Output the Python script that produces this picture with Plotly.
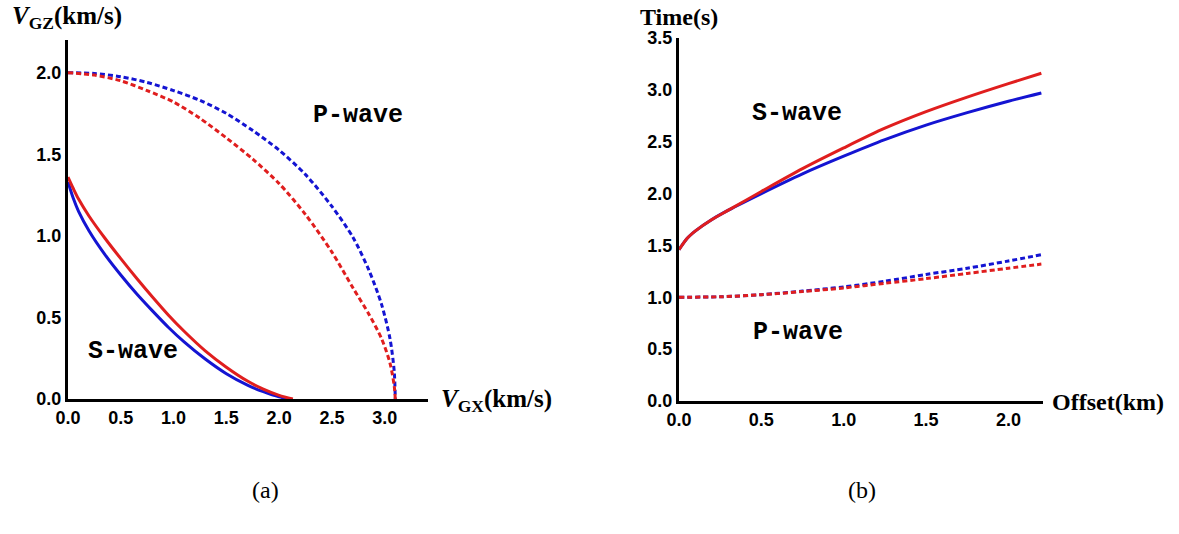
import plotly.graph_objects as go

# ---------------- Panel (a): group velocity (km/s) ----------------
p_blue_vx = [0.0, 0.25, 0.5, 0.75, 1.0, 1.25, 1.5, 1.75, 2.0, 2.25, 2.5, 2.7, 2.85, 2.97, 3.05, 3.09, 3.1]
p_blue_vz = [2.0, 1.995, 1.975, 1.94, 1.89, 1.83, 1.75, 1.645, 1.525, 1.375, 1.18, 0.99, 0.79, 0.58, 0.37, 0.17, 0.0]

p_red_vx = [0.0, 0.25, 0.5, 0.75, 1.0, 1.25, 1.5, 1.75, 2.0, 2.25, 2.5, 2.7, 2.85, 2.97, 3.05, 3.09, 3.1]
p_red_vz = [2.0, 1.985, 1.95, 1.89, 1.82, 1.72, 1.6, 1.47, 1.32, 1.13, 0.9, 0.68, 0.52, 0.37, 0.22, 0.08, 0.0]

s_blue_vx = [0.0, 0.05, 0.1, 0.2, 0.35, 0.5, 0.65, 0.8, 0.95, 1.1, 1.3, 1.5, 1.7, 1.85, 2.0, 2.1]
s_blue_vz = [1.33, 1.23, 1.15, 1.03, 0.885, 0.76, 0.645, 0.54, 0.44, 0.35, 0.245, 0.155, 0.085, 0.045, 0.013, 0.0]

s_red_vx = [0.0, 0.05, 0.1, 0.2, 0.35, 0.5, 0.65, 0.8, 0.95, 1.1, 1.3, 1.5, 1.7, 1.85, 2.0, 2.13]
s_red_vz = [1.36, 1.29, 1.225, 1.12, 0.985, 0.86, 0.74, 0.625, 0.515, 0.415, 0.295, 0.195, 0.11, 0.06, 0.022, 0.0]

# ---------------- Panel (b): traveltime (s) vs offset (km) ----------------
offset = [0.0, 0.05, 0.1, 0.2, 0.3, 0.5, 0.75, 1.0, 1.25, 1.5, 1.75, 2.0, 2.2]
t_s_blue = [1.46, 1.57, 1.64, 1.75, 1.84, 2.0, 2.19, 2.36, 2.52, 2.66, 2.78, 2.89, 2.97]
t_s_red = [1.46, 1.57, 1.64, 1.75, 1.84, 2.02, 2.24, 2.44, 2.63, 2.79, 2.93, 3.06, 3.16]

offset_p = [0.0, 0.25, 0.5, 0.75, 1.0, 1.25, 1.5, 1.75, 2.0, 2.2]
t_p_blue = [1.0, 1.005, 1.025, 1.06, 1.1, 1.155, 1.22, 1.28, 1.35, 1.41]
t_p_red = [1.0, 1.005, 1.025, 1.055, 1.09, 1.135, 1.18, 1.23, 1.28, 1.32]

ticks_a_x = [0.0, 0.5, 1.0, 1.5, 2.0, 2.5, 3.0]
ticks_a_y = [0.0, 0.5, 1.0, 1.5, 2.0]
ticks_b_x = [0.0, 0.5, 1.0, 1.5, 2.0]
ticks_b_y = [0.0, 0.5, 1.0, 1.5, 2.0, 2.5, 3.0, 3.5]

BLUE = "#1414d2"
RED = "#e01e1e"
DOT = "5px,3px"
W, H = 1179, 534

fig = go.Figure()

def add(x, y, color, dash, xa, ya):
    fig.add_trace(go.Scatter(x=x, y=y, mode="lines", xaxis=xa, yaxis=ya,
                             line=dict(color=color, width=3, dash=dash, shape="spline", smoothing=0.8),
                             showlegend=False, hoverinfo="skip"))

add(p_blue_vx, p_blue_vz, BLUE, DOT, "x", "y")
add(p_red_vx, p_red_vz, RED, DOT, "x", "y")
add(s_blue_vx, s_blue_vz, BLUE, "solid", "x", "y")
add(s_red_vx, s_red_vz, RED, "solid", "x", "y")

add(offset, t_s_blue, BLUE, "solid", "x2", "y2")
add(offset, t_s_red, RED, "solid", "x2", "y2")
add(offset_p, t_p_blue, BLUE, DOT, "x2", "y2")
add(offset_p, t_p_red, RED, DOT, "x2", "y2")

tickfont = dict(family="Liberation Sans, Arial", size=18, color="black", weight="bold")
axis_common = dict(showline=True, linewidth=3, linecolor="black", showgrid=False,
                   zeroline=False, ticks="", tickfont=tickfont, tickformat=".1f",
                   mirror=False, fixedrange=True, automargin=False)

def px2fx(px):
    return px / W

def py2fy(py):
    return 1 - py / H

fig.update_layout(
    template="none",
    width=W, height=H, margin=dict(l=0, r=0, t=0, b=0, pad=0),
    paper_bgcolor="white", plot_bgcolor="white",
    xaxis=dict(axis_common, domain=[px2fx(68), px2fx(428)], range=[0, 3.41],
               tickvals=ticks_a_x, anchor="y"),
    yaxis=dict(axis_common, domain=[py2fy(399), py2fy(40)], range=[0, 2.2],
               tickvals=ticks_a_y, anchor="x"),
    xaxis2=dict(axis_common, domain=[px2fx(679), px2fx(1043)], range=[0, 2.21],
                tickvals=ticks_b_x, anchor="y2"),
    yaxis2=dict(axis_common, domain=[py2fy(401), py2fy(38)], range=[0, 3.5],
                tickvals=ticks_b_y, anchor="x2"),
)

serif = "Liberation Serif, Times New Roman"
mono = "Liberation Mono, Courier New"

annotations = [
    dict(text="<b><i>V</i><sub>GZ</sub>(km/s)</b>", x=px2fx(67), y=py2fy(18),
         font=dict(family=serif, size=25, color="black")),
    dict(text="<b><i>V</i><sub>GX</sub>(km/s)</b>", x=px2fx(496), y=py2fy(400),
         font=dict(family=serif, size=25, color="black")),
    dict(text="<b>Time(s)</b>", x=px2fx(679), y=py2fy(17),
         font=dict(family=serif, size=24, color="black")),
    dict(text="<b>Offset(km)</b>", x=px2fx(1108), y=py2fy(402),
         font=dict(family=serif, size=24, color="black")),
    dict(text="<b>P-wave</b>", x=px2fx(358), y=py2fy(116),
         font=dict(family=mono, size=25, color="black")),
    dict(text="<b>S-wave</b>", x=px2fx(133), y=py2fy(351),
         font=dict(family=mono, size=25, color="black")),
    dict(text="<b>S-wave</b>", x=px2fx(797), y=py2fy(114),
         font=dict(family=mono, size=25, color="black")),
    dict(text="<b>P-wave</b>", x=px2fx(798), y=py2fy(332),
         font=dict(family=mono, size=25, color="black")),
    dict(text="(a)", x=px2fx(265), y=py2fy(490),
         font=dict(family=serif, size=24, color="black")),
    dict(text="(b)", x=px2fx(862), y=py2fy(490),
         font=dict(family=serif, size=24, color="black")),
]
for a in annotations:
    a.update(xref="paper", yref="paper", showarrow=False, xanchor="center", yanchor="middle")
fig.update_layout(annotations=annotations)

fig.write_html("out.html")
